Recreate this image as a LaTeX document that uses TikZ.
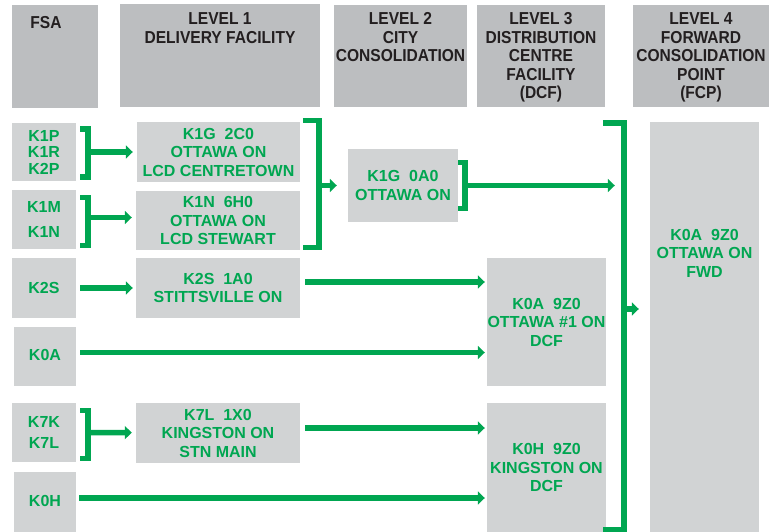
\documentclass[tikz,border=0pt]{standalone}
\usepackage{fontspec}
\setmainfont{Liberation Sans}
\newfontfamily\headfont[FakeStretch = 0.9]{Liberation Sans}
\usetikzlibrary{arrows.meta,calc}

\definecolor{pgreen}{HTML}{00A651}
\definecolor{headgray}{HTML}{BCBEC0}
\definecolor{boxgray}{HTML}{D1D3D4}
\definecolor{headink}{HTML}{231F20}

\tikzset{
	headbox/.style = {fill = headgray, inner sep = 0pt},
	headtext/.style = {anchor = north, inner sep = 0pt, align = center, text = headink,
		font = \headfont\bfseries\fontsize{17.3}{18.5}\selectfont},
	boxtext/.style = {inner sep = 0pt, align = center, text = pgreen,
		font = \bfseries\fontsize{16}{18.5}\selectfont},
	box/.style = {boxtext, fill = boxgray},
	bracket/.style = {draw = pgreen, line width = 5.5pt},
	flow/.style = {draw = pgreen, line width = 5.5pt, -{Triangle[length = 7pt, width = 13pt]}},
}

\begin{document}
\begin{tikzpicture}[x = 1pt, y = 1pt, yscale = -1]
	\useasboundingbox (0, 0) rectangle (769, 532);

	% Kopfzeile
	\node [headbox, minimum width = 86, minimum height = 103] (hfsa) at (55, 56.5) {};
	\node [headbox, minimum width = 200, minimum height = 103] (hlev1) at (220, 55.5) {};
	\node [headbox, minimum width = 133, minimum height = 102] (hlev2) at (400.5, 56) {};
	\node [headbox, minimum width = 128, minimum height = 102] (hlev3) at (541, 56) {};
	\node [headbox, minimum width = 136, minimum height = 102] (hlev4) at (701, 56) {};

	\node [headtext] (tfsa) at (46, 16.5) {FSA};
	\node [headtext] (tlev1) at (220, 12.5) {LEVEL 1\\DELIVERY FACILITY};
	\node [headtext] (tlev2) at (400.5, 12.5) {LEVEL 2\\CITY\\CONSOLIDATION};
	\node [headtext] (tlev3) at (541, 12.5) {LEVEL 3\\DISTRIBUTION\\CENTRE\\FACILITY\\(DCF)};
	\node [headtext] (tlev4) at (701, 12.5) {LEVEL 4\\FORWARD\\CONSOLIDATION\\POINT\\(FCP)};

	% FSA
	\node [box, minimum width = 64, minimum height = 58] (fsa1) at (44, 152) {K1P\\[-2pt]K1R\\[-2pt]K2P};
	\node [box, minimum width = 64, minimum height = 59] (fsa2) at (44, 219.5) {K1M\\[6pt]K1N};
	\node [box, minimum width = 64, minimum height = 60] (fsa3) at (44, 288) {K2S};
	\node [box, minimum width = 62, minimum height = 59] (fsa4) at (45, 356.5) {\raisebox{3pt}{K0A}};
	\node [box, minimum width = 64, minimum height = 59] (fsa5) at (44, 432.5) {K7K\\[3pt]K7L};
	\node [box, minimum width = 62, minimum height = 60] (fsa6) at (45, 502) {\raisebox{3pt}{K0H}};

	% Level 1
	\node [box, minimum width = 163, minimum height = 60] (dcentre) at (218.5, 152) {K1G\ \ 2C0\\OTTAWA ON\\LCD CENTRETOWN};
	\node [box, minimum width = 164, minimum height = 59] (dstewart) at (218, 220.5) {K1N\ \ 6H0\\OTTAWA ON\\LCD STEWART};
	\node [box, minimum width = 164, minimum height = 60] (dstitt) at (218, 288) {K2S\ \ 1A0\\STITTSVILLE ON};
	\node [box, minimum width = 164, minimum height = 60] (dking) at (218, 433) {K7L\ \ 1X0\\KINGSTON ON\\STN MAIN};

	% Level 2
	\node [box, minimum width = 110, minimum height = 73] (cons) at (403, 185.5) {K1G\ \ 0A0\\OTTAWA ON};

	% Level 3
	\node [box, minimum width = 119, minimum height = 128] (dcfott) at (546.5, 322) {K0A\ \ 9Z0\\OTTAWA \#1 ON\\DCF};
	\node [box, minimum width = 119, minimum height = 129] (dcfking) at (546.5, 467.5) {K0H\ \ 9Z0\\KINGSTON ON\\DCF};

	% Level 4
	\node [box, minimum width = 109, minimum height = 410] (fcp) at (704.5, 327) {};
	\node [boxtext] (tfcp) at (704.5, 253) {K0A\ \ 9Z0\\OTTAWA ON\\FWD};

	% Klammern und Pfeile
	\coordinate (j1) at ($(fsa1.east) + (12, 0)$);
	\draw [bracket] ($(j1) + (-8, -23)$) -| (j1) |- ($(j1) + (-8, 25)$);
	\draw [flow, shorten >= 4pt] (j1) -- (dcentre);

	\coordinate (j2) at ($(fsa2.east) + (12, -2)$);
	\draw [bracket] ($(j2) + (-8, -20)$) -| (j2) |- ($(j2) + (-8, 28)$);
	\draw [flow, shorten >= 4pt] (j2) -- (j2 -| dstewart.west);

	\draw [flow, shorten <= 4pt, shorten >= 3pt] (fsa3) -- (dstitt);

	\coordinate (j5) at ($(fsa5.east) + (12, 0)$);
	\draw [bracket] ($(j5) + (-8, -22)$) -| (j5) |- ($(j5) + (-8, 26)$);
	\draw [flow, shorten >= 4pt] (j5) -- (dking);

	\coordinate (s3) at ($(dstitt.east) + (5, -6)$);
	\draw [flow, shorten >= 2pt] (s3) -- (s3 -| dcfott.west);
	\coordinate (s4) at ($(fsa4.east) + (4, -4)$);
	\draw [flow, shorten >= 2pt] (s4) -- (s4 -| dcfott.west);
	\coordinate (s5) at ($(dking.east) + (5, -5)$);
	\draw [flow, shorten >= 2pt] (s5) -- (s5 -| dcfking.west);
	\coordinate (s6) at ($(fsa6.east) + (3, -4)$);
	\draw [flow, shorten >= 2pt] (s6) -- (s6 -| dcfking.west);

	% Level 1 -> Level 2
	\coordinate (j3) at ($(cons.west) + (-29, 0)$);
	\draw [bracket] ($(j3) + (-16, -65)$) -| (j3) |- ($(j3) + (-16, 62)$);
	\draw [flow, shorten >= 11pt] (j3) -- (cons);

	% Level 2/3 -> Level 4
	\coordinate (j4) at ($(cons.east) + (7, 0)$);
	\coordinate (j6) at ($(fcp.west) + (-26, -18)$);
	\draw [bracket] ($(j4) + (-7, -23)$) -| (j4) |- ($(j4) + (-7, 23)$);
	\draw [bracket] ($(j6) + (-21, -186)$) -| (j6) |- ($(j6) + (-21, 221)$);
	\draw [flow, shorten >= 9pt] (j4) -- (j4 -| j6);
	\draw [flow, shorten >= 11pt] (j6) -- (fcp.west |- j6);
\end{tikzpicture}
\end{document}
